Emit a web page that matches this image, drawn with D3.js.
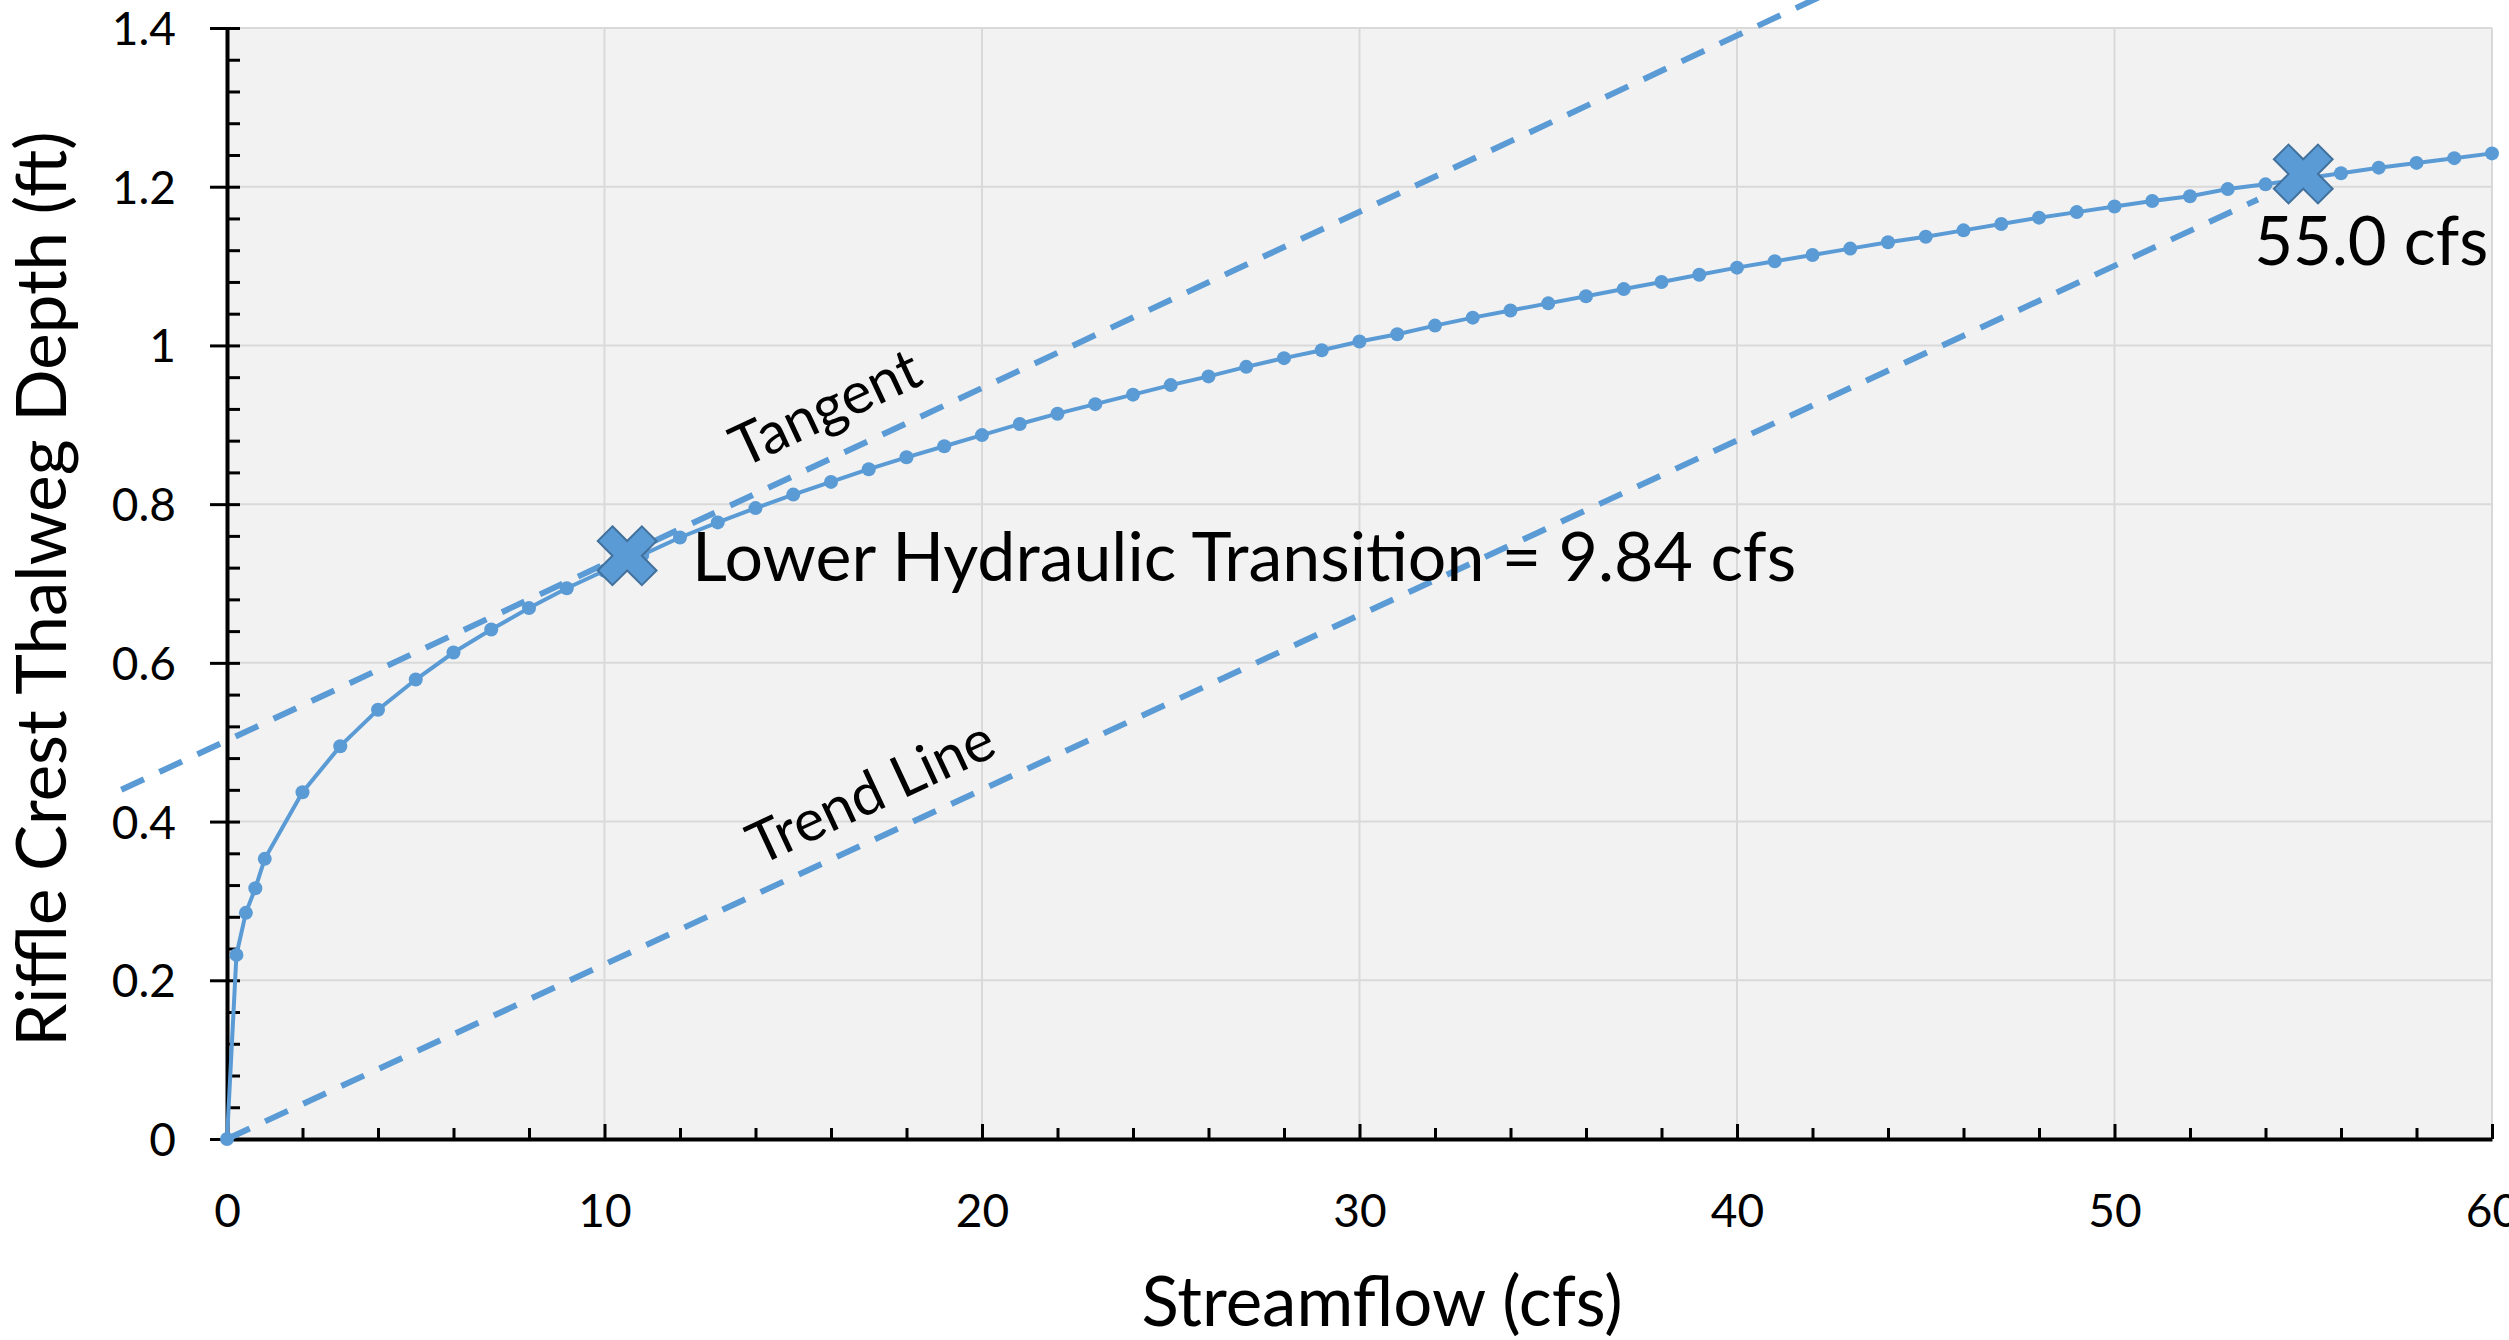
<!DOCTYPE html>
<html>
<head>
<meta charset="utf-8">
<script src="https://cdn.jsdelivr.net/npm/d3@7"></script>
<style>
  body { margin: 0; background: #fff; }
  svg { display: block; }
</style>
</head>
<body>
<div id="chart"></div>
<script>
// streamflow (cfs) vs riffle crest thalweg depth (ft)
const flow = [0, 0.25, 0.5, 0.75, 1, 2, 3, 4, 5, 6, 7, 8, 9, 10,
  11, 12, 13, 14, 15, 16, 17, 18, 19, 20, 21, 22, 23, 24, 25, 26, 27, 28, 29, 30,
  31, 32, 33, 34, 35, 36, 37, 38, 39, 40, 41, 42, 43, 44, 45, 46, 47, 48, 49, 50,
  51, 52, 53, 54, 55, 56, 57, 58, 59, 60];
const depth = [0, 0.232, 0.285, 0.316, 0.353, 0.437, 0.495, 0.541, 0.579, 0.613, 0.642, 0.669, 0.694, 0.716,
  0.736, 0.758, 0.777, 0.795, 0.812, 0.828, 0.844, 0.859, 0.873, 0.887, 0.901, 0.914, 0.926, 0.938, 0.950, 0.961, 0.973, 0.984, 0.994, 1.005,
  1.014, 1.025, 1.035, 1.044, 1.053, 1.062, 1.071, 1.080, 1.089, 1.098, 1.106, 1.114, 1.122, 1.130, 1.137, 1.145, 1.153, 1.161, 1.168, 1.175,
  1.182, 1.188, 1.197, 1.203, 1.210, 1.217, 1.224, 1.230, 1.236, 1.242];

// dashed lines (end points)
const tangentFlow = [-2.8, 42.5];
const tangentDepth = [0.440, 1.446];
const trendFlow = [0, 53.8];
const trendDepth = [0, 1.184];

// X markers
const markerFlow = [10.6, 55.0];
const markerDepth = [0.735, 1.216];

const xTicks = [0, 10, 20, 30, 40, 50, 60];
const xMinorTicks = [2, 4, 6, 8, 12, 14, 16, 18, 22, 24, 26, 28, 32, 34, 36, 38,
  42, 44, 46, 48, 52, 54, 56, 58];
const yTicks = [0, 0.2, 0.4, 0.6, 0.8, 1, 1.2, 1.4];
const yTickLabels = ["0", "0.2", "0.4", "0.6", "0.8", "1", "1.2", "1.4"];
const yMinorTicks = [0.04, 0.08, 0.12, 0.16, 0.24, 0.28, 0.32, 0.36, 0.44, 0.48, 0.52, 0.56,
  0.64, 0.68, 0.72, 0.76, 0.84, 0.88, 0.92, 0.96, 1.04, 1.08, 1.12, 1.16, 1.24, 1.28, 1.32, 1.36];

const width = 2509, height = 1340;
const plot = { left: 227, right: 2492, top: 28, bottom: 1139 };
const blue = "#5b9bd5";
const font = "Lato, 'Open Sans', sans-serif";

const svg = d3.select("#chart")
    .append("svg")
    .attr("width", width)
    .attr("height", height);

const x = d3.scaleLinear().domain([0, 60]).range([plot.left, plot.right]);
const y = d3.scaleLinear().domain([0, 1.4]).range([plot.bottom, plot.top]);

// plot background
svg.append("rect")
    .attr("x", plot.left).attr("y", plot.top)
    .attr("width", plot.right - plot.left).attr("height", plot.bottom - plot.top)
    .attr("fill", "#f2f2f2");

// grid
svg.append("g")
    .selectAll("line")
    .data(xTicks.slice(1))
    .enter().append("line")
    .attr("x1", d => x(d)).attr("x2", d => x(d))
    .attr("y1", plot.top).attr("y2", plot.bottom)
    .attr("stroke", "#d9d9d9").attr("stroke-width", 2);

svg.append("g")
    .selectAll("line")
    .data(yTicks.slice(1))
    .enter().append("line")
    .attr("x1", plot.left).attr("x2", plot.right)
    .attr("y1", d => y(d)).attr("y2", d => y(d))
    .attr("stroke", "#d9d9d9").attr("stroke-width", 2);

// x axis
const xAxis = svg.append("g")
    .attr("transform", `translate(0,${plot.bottom})`)
    .call(d3.axisBottom(x).tickValues(xTicks).tickSizeInner(-15).tickSizeOuter(0).tickPadding(55)
        .tickFormat(d3.format("d")));
svg.append("g")
    .attr("transform", `translate(0,${plot.bottom})`)
    .call(d3.axisBottom(x).tickValues(xMinorTicks).tickSizeInner(-11).tickSizeOuter(0).tickFormat(""))
    .call(g => g.select(".domain").remove());

// y axis
const yAxis = svg.append("g")
    .attr("transform", `translate(${plot.left},0)`)
    .call(d3.axisLeft(y).tickValues(yTicks).tickSizeInner(17).tickSizeOuter(0).tickPadding(34)
        .tickFormat((d, i) => yTickLabels[i]));
svg.append("g")
    .attr("transform", `translate(${plot.left},0)`)
    .call(d3.axisRight(y).tickValues(yTicks.concat(yMinorTicks)).tickSizeInner(13).tickSizeOuter(0).tickFormat(""))
    .call(g => g.select(".domain").remove());

svg.selectAll(".domain").attr("stroke", "#000").attr("stroke-width", 4);
svg.selectAll(".tick line").attr("stroke", "#000").attr("stroke-width", 3);
svg.selectAll(".tick text")
    .attr("font-family", font)
    .attr("font-size", 46)
    .attr("fill", "#000");
yAxis.selectAll(".tick text").attr("dy", "0.36em");

// trend line and tangent
const line = d3.line().x(d => x(d[0])).y(d => y(d[1]));

svg.append("path")
    .datum(d3.zip(trendFlow, trendDepth))
    .attr("d", line)
    .attr("fill", "none")
    .attr("stroke", blue)
    .attr("stroke-width", 6)
    .attr("stroke-dasharray", "25 17");

svg.append("path")
    .datum(d3.zip(tangentFlow, tangentDepth))
    .attr("d", line)
    .attr("fill", "none")
    .attr("stroke", blue)
    .attr("stroke-width", 6)
    .attr("stroke-dasharray", "25 17");

// rating curve
const points = d3.zip(flow, depth);
svg.append("path")
    .datum(points)
    .attr("d", line)
    .attr("fill", "none")
    .attr("stroke", blue)
    .attr("stroke-width", 4);

svg.append("g")
    .selectAll("circle")
    .data(points)
    .enter().append("circle")
    .attr("cx", d => x(d[0]))
    .attr("cy", d => y(d[1]))
    .attr("r", 7)
    .attr("fill", blue);

// transition markers
const cross = d3.symbol().type(d3.symbolCross).size(2160);
svg.append("g")
    .selectAll("path")
    .data(d3.zip(markerFlow, markerDepth))
    .enter().append("path")
    .attr("d", cross)
    .attr("transform", d => `translate(${x(d[0])},${y(d[1])}) rotate(45)`)
    .attr("fill", blue)
    .attr("stroke", "#41719c")
    .attr("stroke-width", 2);

// labels
svg.append("text")
    .attr("x", x(12.32)).attr("y", y(0.703))
    .attr("font-family", font).attr("font-size", 68)
    .text("Lower Hydraulic Transition = 9.84 cfs");

svg.append("text")
    .attr("x", x(53.7)).attr("y", y(1.101))
    .attr("font-family", font).attr("font-size", 67)
    .text("55.0 cfs");

svg.append("text")
    .attr("transform", `translate(${x(13.65)},${y(0.845)}) rotate(-25)`)
    .attr("font-family", font).attr("font-size", 58)
    .text("Tangent");

svg.append("text")
    .attr("transform", `translate(${x(14.1)},${y(0.344)}) rotate(-25)`)
    .attr("font-family", font).attr("font-size", 58)
    .text("Trend Line");

// axis titles
svg.append("text")
    .attr("x", 1382).attr("y", 1326)
    .attr("text-anchor", "middle")
    .attr("font-family", font).attr("font-size", 69)
    .text("Streamflow (cfs)");

svg.append("text")
    .attr("transform", "translate(66,589) rotate(-90)")
    .attr("text-anchor", "middle")
    .attr("font-family", font).attr("font-size", 69)
    .text("Riffle Crest Thalweg Depth (ft)");
</script>
</body>
</html>
